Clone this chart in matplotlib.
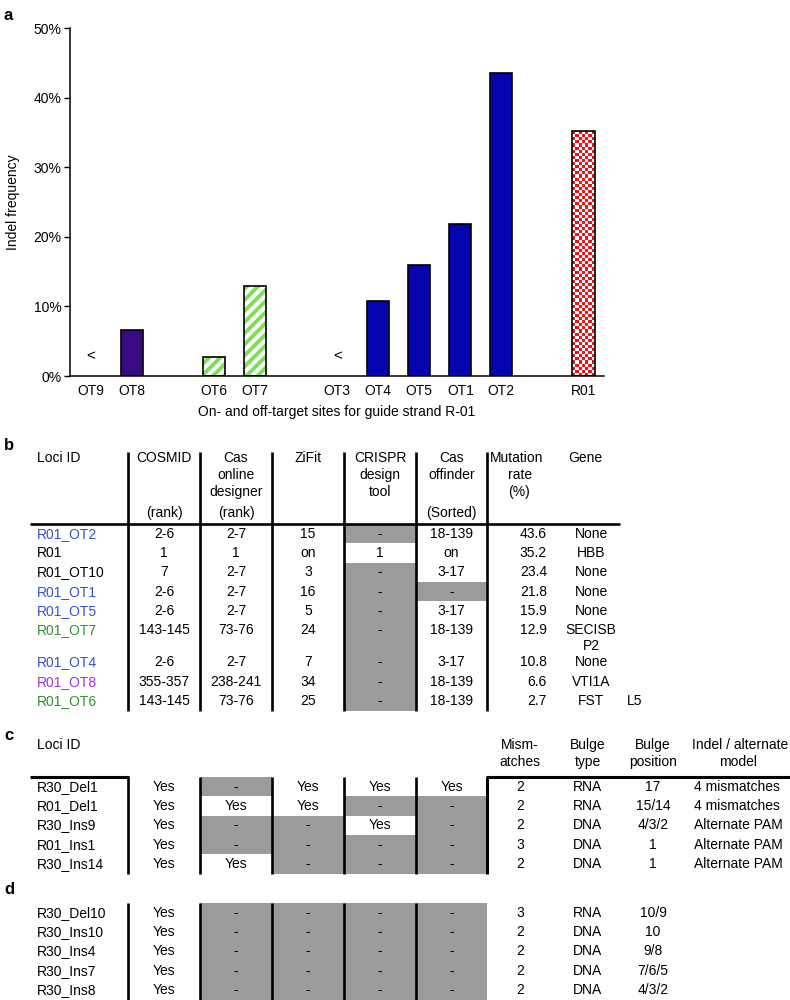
import matplotlib
matplotlib.use("Agg")
import matplotlib.pyplot as plt
import numpy as np
from matplotlib.patches import Rectangle
from matplotlib.lines import Line2D
from matplotlib.colors import ListedColormap
from matplotlib.ticker import PercentFormatter, MultipleLocator

plt.rcParams['font.family'] = ['Liberation Sans', 'DejaVu Sans']
plt.rcParams['hatch.linewidth'] = 2.8

# ---- panel a data ----
site_groups = [['OT9', 'OT8'], ['OT6', 'OT7'], ['OT3', 'OT4', 'OT5', 'OT1', 'OT2'], ['R01']]
indel_freq = {'OT9': 0.0, 'OT8': 6.6, 'OT6': 2.7, 'OT7': 12.9, 'OT3': 0.0,
              'OT4': 10.8, 'OT5': 15.9, 'OT1': 21.8, 'OT2': 43.6, 'R01': 35.2}
below_detection = ['OT9', 'OT3']
xlabel_a = 'On- and off-target sites for guide strand R-01'

# ---- panel b data ----
b_loci = ['R01_OT2', 'R01', 'R01_OT10', 'R01_OT1', 'R01_OT5', 'R01_OT7', 'R01_OT4', 'R01_OT8', 'R01_OT6']
b_cosmid = ['2-6', '1', '7', '2-6', '2-6', '143-145', '2-6', '355-357', '143-145']
b_casonline = ['2-7', '1', '2-7', '2-7', '2-7', '73-76', '2-7', '238-241', '73-76']
b_zifit = ['15', 'on', '3', '16', '5', '24', '7', '34', '25']
b_crispr = ['-', '1', '-', '-', '-', '-', '-', '-', '-']
b_offinder = ['18-139', 'on', '3-17', '-', '3-17', '18-139', '3-17', '18-139', '18-139']
b_rate = ['43.6', '35.2', '23.4', '21.8', '15.9', '12.9', '10.8', '6.6', '2.7']
b_gene = ['None', 'HBB', 'None', 'None', 'None', 'SECISB\nP2', 'None', 'VTI1A', 'FST']
b_gene_tail = ['', '', '', '', '', '', '', '', 'L5']

# ---- panel c / d data ----
c_loci = ['R30_Del1', 'R01_Del1', 'R30_Ins9', 'R01_Ins1', 'R30_Ins14']
c_tools = [['Yes', 'Yes', 'Yes', 'Yes', 'Yes'],
           ['-', 'Yes', '-', '-', 'Yes'],
           ['Yes', 'Yes', '-', '-', '-'],
           ['Yes', '-', 'Yes', '-', '-'],
           ['Yes', '-', '-', '-', '-']]
c_mism = ['2', '2', '2', '3', '2']
c_btype = ['RNA', 'RNA', 'DNA', 'DNA', 'DNA']
c_bpos = ['17', '15/14', '4/3/2', '1', '1']
c_model = ['4 mismatches', '4 mismatches', 'Alternate PAM', 'Alternate PAM', 'Alternate PAM']

d_loci = ['R30_Del10', 'R30_Ins10', 'R30_Ins4', 'R30_Ins7', 'R30_Ins8']
d_tools = [['Yes'] * 5, ['-'] * 5, ['-'] * 5, ['-'] * 5, ['-'] * 5]
d_mism = ['3', '2', '2', '2', '2']
d_btype = ['RNA', 'DNA', 'DNA', 'DNA', 'DNA']
d_bpos = ['10/9', '10', '9/8', '7/6/5', '4/3/2']

# ---- styles ----
BLUE = '#0505b0'
PURPLE = '#3a0a82'
GREEN = '#7ede58'
RED = '#e8141c'
GRAY = '#9b9b9b'
site_style = {'OT8': 'purple', 'OT6': 'green', 'OT7': 'green', 'OT4': 'blue', 'OT5': 'blue',
              'OT1': 'blue', 'OT2': 'blue', 'R01': 'check', 'OT9': 'none', 'OT3': 'none'}
loci_color = {'R01_OT2': '#3452d0', 'R01_OT1': '#3452d0', 'R01_OT5': '#3452d0', 'R01_OT4': '#3452d0',
              'R01_OT7': '#2a962a', 'R01_OT6': '#2a962a', 'R01_OT8': '#9a35d2'}
FS = 10

fig = plt.figure(figsize=(7.9, 10), dpi=100)

# ================= tables (pixel coordinates) =================
tx = fig.add_axes([0, 0, 1, 1])
tx.set_xlim(0, 790)
tx.set_ylim(1000, 0)
tx.axis('off')
tx.patch.set_visible(False)

col_edges = [128, 200, 272, 344, 416, 487]
col_mid = [(a + b) / 2 for a, b in zip(col_edges[:-1], col_edges[1:])]
LOCI_X = 37
ROW_H = 19.3
EXTRA_LINE = 13


def t(x, y, s, ha='center', color='black', **kw):
    tx.text(x, y, s, ha=ha, va='center', fontsize=FS, color=color, zorder=6, **kw)


def vline(x, y0, y1, lw=1.9):
    tx.add_line(Line2D([x, x], [y0, y1], color='black', lw=lw, solid_capstyle='butt', zorder=10))


def hline(x0, x1, y, lw=1.9):
    tx.add_line(Line2D([x0, x1], [y, y], color='black', lw=lw, solid_capstyle='butt', zorder=10))


def gray(ci, y0, y1):
    tx.add_patch(Rectangle((col_edges[ci], y0), col_edges[ci + 1] - col_edges[ci], y1 - y0,
                           facecolor=GRAY, edgecolor='none', zorder=1))


# panel labels
for lab, y in [('a', 15), ('b', 446), ('c', 736), ('d', 889)]:
    tx.text(4, y, lab, fontsize=12, fontweight='bold', ha='left', va='center')

# ---- table b ----
hb = 458
t(LOCI_X, hb, 'Loci ID', ha='left')
t(col_mid[0], hb, 'COSMID')
t(col_mid[0], hb + 55, '(rank)')
for i, s in enumerate(['Cas', 'online', 'designer']):
    t(col_mid[1], hb + i * 17, s)
t(col_mid[1], hb + 55, '(rank)')
t(col_mid[2], hb, 'ZiFit')
for i, s in enumerate(['CRISPR', 'design', 'tool']):
    t(col_mid[3], hb + i * 17, s)
for i, s in enumerate(['Cas', 'offinder']):
    t(col_mid[4], hb + i * 17, s)
t(col_mid[4], hb + 55, '(Sorted)')
t(490, hb, 'Mutation', ha='left')
t(508, hb + 17, 'rate', ha='left')
t(508, hb + 34, '(%)', ha='left')
t(585, hb, 'Gene')

top_b = 524
y = top_b
b_cols = [b_cosmid, b_casonline, b_zifit, b_crispr, b_offinder]
for r, loc in enumerate(b_loci):
    nl = b_gene[r].count('\n') + 1
    h = ROW_H + (nl - 1) * EXTRA_LINE
    yc = y + ROW_H / 2
    t(LOCI_X, yc, loc, ha='left', color=loci_color.get(loc, 'black'))
    for ci, col in enumerate(b_cols):
        if col[r] == '-' and ci >= 3:
            gray(ci, y, y + h)
        t(col_mid[ci], yc, col[r])
    t(547, yc, b_rate[r], ha='right')
    for k, part in enumerate(b_gene[r].split('\n')):
        t(591, yc + k * 16, part)
    if b_gene_tail[r]:
        t(627, yc, b_gene_tail[r], ha='left')
    y += h
bottom_b = y
for x in col_edges:
    vline(x, 452, bottom_b)
hline(30, 620, top_b)

# ---- table c ----
hc = 745
t(LOCI_X, hc, 'Loci ID', ha='left')
right_mid = [520, 588, 653]
right_head = [['Mism-', 'atches'], ['Bulge', 'type'], ['Bulge', 'position']]
for xm, lines in zip(right_mid, right_head):
    for k, s in enumerate(lines):
        t(xm, hc + k * 17, s)
t(740, hc, 'Indel / alternate')
t(738, hc + 17, 'model')

top_c = 777


def tool_table(loci, tools, mism, btype, bpos, y0, model=None):
    for r, loc in enumerate(loci):
        ya = y0 + r * ROW_H
        yc = ya + ROW_H / 2
        t(LOCI_X, yc, loc, ha='left')
        for ci in range(5):
            if tools[ci][r] == '-':
                gray(ci, ya, ya + ROW_H)
            t(col_mid[ci], yc, tools[ci][r])
        t(right_mid[0], yc, mism[r])
        t(right_mid[1], yc, btype[r])
        t(right_mid[2], yc, bpos[r])
        if model is not None:
            t(694, yc, model[r], ha='left')
    return y0 + len(loci) * ROW_H


bottom_c = tool_table(c_loci, c_tools, c_mism, c_btype, c_bpos, top_c, c_model)
for x in col_edges[:-1]:
    vline(x, top_c, bottom_c)
vline(col_edges[-1], top_c, bottom_c, lw=2.2)
hline(30, 129, top_c, lw=2.2)
hline(486, 790, top_c, lw=2.2)

# ---- table d ----
top_d = 903
bottom_d = tool_table(d_loci, d_tools, d_mism, d_btype, d_bpos, top_d)
for x in col_edges[:-1]:
    vline(x, top_d, 1000)

# ================= panel a bar chart =================
ax = fig.add_axes([70 / 790, 1 - 376 / 1000, (604 - 70) / 790, (376 - 28) / 1000])
names, xpos = [], []
p = 0
for g in site_groups:
    for s in g:
        names.append(s)
        xpos.append(p)
        p += 1
    p += 1
vals = np.array([indel_freq[s] for s in names]) / 100
xpos = np.array(xpos)
W = 0.54

ax.set_xlim(-0.51, 12.5)
ax.set_ylim(0, 0.5)

for s, xp, v in zip(names, xpos, vals):
    st = site_style[s]
    if st == 'none':
        continue
    if st == 'blue':
        ax.bar(xp, v, W, color=BLUE, edgecolor='black', lw=1.2, zorder=2)
    elif st == 'purple':
        ax.bar(xp, v, W, color=PURPLE, edgecolor='black', lw=1.2, zorder=2)
    elif st == 'green':
        ax.bar(xp, v, W, facecolor='white', edgecolor=GREEN, hatch='///', lw=0, zorder=2)
        ax.bar(xp, v, W, fill=False, edgecolor='black', lw=1.2, zorder=3)
    elif st == 'check':
        rect = ax.bar(xp, v, W, fill=False, edgecolor='black', lw=1.2, zorder=3)[0]
        x0, w, h = rect.get_x(), rect.get_width(), rect.get_height()
        p0 = ax.transData.transform((x0, 0))
        p1 = ax.transData.transform((x0 + w, h))
        nx = max(1, int(round((p1[0] - p0[0]) / 3.1)))
        ny = max(1, int(round((p1[1] - p0[1]) / 3.1)))
        checker = np.add.outer(np.arange(ny), np.arange(nx)) % 2
        ax.imshow(checker, extent=(x0, x0 + w, 0, h), aspect='auto', interpolation='nearest',
                  cmap=ListedColormap([RED, 'white']), zorder=2, origin='lower')

for s in below_detection:
    ax.text(xpos[names.index(s)], 0.029, '<', ha='center', va='center', fontsize=11)

ax.set_xlim(-0.51, 12.5)
ax.set_ylim(0, 0.5)
ax.set_aspect('auto')
ax.set_xticks(xpos)
ax.set_xticklabels(names, fontsize=FS)
ax.tick_params(axis='x', length=0, pad=6)
ax.yaxis.set_major_locator(MultipleLocator(0.1))
ax.yaxis.set_major_formatter(PercentFormatter(1.0, decimals=0))
ax.tick_params(axis='y', length=4, width=1, labelsize=FS, pad=2, direction='out')
for sp in ['top', 'right']:
    ax.spines[sp].set_visible(False)
for sp in ['left', 'bottom']:
    ax.spines[sp].set_linewidth(1.1)
ax.set_ylabel('Indel frequency', fontsize=FS, labelpad=10)
ax.set_xlabel(xlabel_a, fontsize=FS, labelpad=5)
ax.patch.set_visible(False)

fig.savefig('out.png', dpi=100)
